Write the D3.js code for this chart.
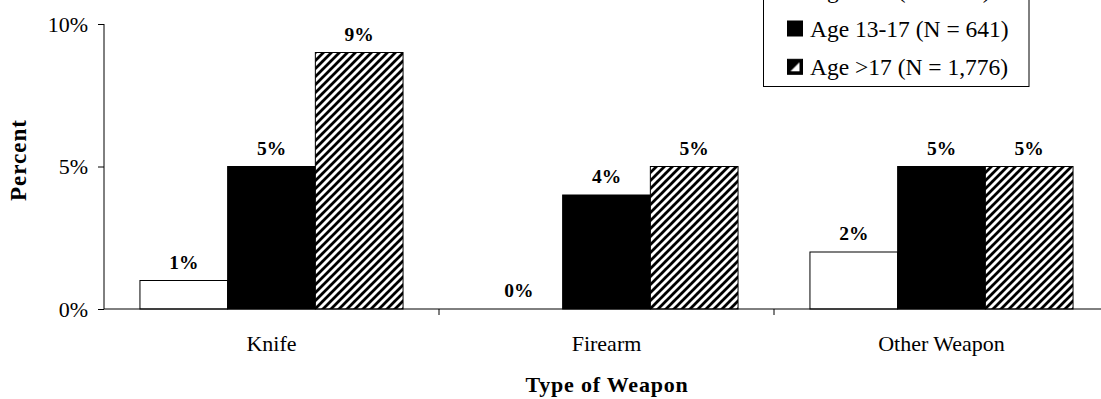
<!DOCTYPE html>
<html><head><meta charset="utf-8">
<script src="https://cdn.jsdelivr.net/npm/d3@7"></script>
<style>body{margin:0;background:#fff}svg{display:block;font-family:"Liberation Serif","Times New Roman",serif}</style>
</head><body><svg id="c" width="1101" height="399"></svg>
<script>
const categories = ["Knife", "Firearm", "Other Weapon"];
const seriesNames = ["Age <13 (N = 133)", "Age 13-17 (N = 641)", "Age >17 (N = 1,776)"];
const ageUnder13 = [1, 0, 2];
const age13to17 = [5, 4, 5];
const ageOver17 = [9, 5, 5];
const yTicks = [0, 5, 10];
const yTickLabels = ["0%", "5%", "10%"];

const seriesValues = [ageUnder13, age13to17, ageOver17];
const svg = d3.select("#c");
const defs = svg.append("defs");
const pat = defs.append("pattern").attr("id","hatch").attr("patternUnits","userSpaceOnUse")
  .attr("width",8).attr("height",8);
pat.append("rect").attr("width",8).attr("height",8).attr("fill","#fff");
pat.append("path").attr("d","M-2,2 L2,-2 M0,8 L8,0 M6,10 L10,6").attr("stroke","#000").attr("stroke-width",2.8);
const LGY = 36.5, LGS = 38.3;
const pat2 = defs.append("pattern").attr("id","hatchS").attr("patternUnits","userSpaceOnUse")
  .attr("width",15).attr("height",15).attr("x",787.5).attr("y",LGY + LGS - 15.5);
pat2.append("rect").attr("width",15).attr("height",15).attr("fill","#000");
pat2.append("path").attr("d","M3,12 L12,3 L12,12 Z").attr("fill","#fff");
const fills = ["#fff", "#000", "url(#hatch)"];
const legFills = ["#fff", "#000", "url(#hatchS)"];

const L = 104, R = 1109, T = 24, B = 309;
const y = d3.scaleLinear().domain([0, 10]).range([B, T]);
const x0 = d3.scaleBand().domain(categories).range([L, R]).padding(0);
const x1 = d3.scaleBand().domain(d3.range(3)).range([0, x0.bandwidth()]).paddingInner(0).paddingOuter(0.41);

// bars
categories.forEach((c, ci) => {
  const g = svg.append("g").attr("transform", `translate(${x0(c)},0)`);
  seriesValues.forEach((vals, si) => {
    const v = vals[ci];
    if (v > 0) {
      g.append("rect").attr("x", x1(si)).attr("y", y(v)).attr("width", x1.bandwidth())
        .attr("height", y(0) - y(v)).attr("fill", fills[si]).attr("stroke", "#000").attr("stroke-width", 1);
    }
    g.append("text").attr("x", x1(si) + x1.bandwidth()/2).attr("y", y(v) - 12)
      .attr("text-anchor", "middle").attr("font-weight", "bold").attr("font-size", 19.5).text(v + "%");
  });
});

// y axis
const yAxis = d3.axisLeft(y).tickValues(yTicks).tickFormat((d, i) => yTickLabels[i]).tickSize(6).tickPadding(10);
const ya = svg.append("g").attr("transform", `translate(${L},0)`).call(yAxis);
ya.select(".domain").attr("d", `M0,${T}V${B}`).attr("stroke","#000");
ya.selectAll("text").attr("font-size", 22).attr("font-family", "Liberation Serif").attr("fill","#000");
ya.selectAll("line").attr("stroke","#000");

// x axis
const xa = svg.append("g").attr("transform", `translate(0,${B})`);
xa.append("line").attr("x1", L).attr("x2", 1101).attr("stroke", "#000");
categories.forEach((c) => {
  xa.append("line").attr("x1", x0(c) + x0.bandwidth()).attr("x2", x0(c) + x0.bandwidth())
    .attr("y1", 0).attr("y2", 6).attr("stroke", "#000");
  xa.append("text").attr("x", x0(c) + x0.bandwidth()/2).attr("y", 42).attr("text-anchor","middle")
    .attr("font-size", 22).text(c);
});

svg.append("text").attr("x", (L + R)/2 + 0.5).attr("y", 392).attr("text-anchor","middle")
  .attr("font-weight","bold").attr("font-size", 22).attr("letter-spacing", 0.8).text("Type of Weapon");
svg.append("text").attr("transform", `translate(26,160) rotate(-90)`).attr("text-anchor","middle")
  .attr("font-weight","bold").attr("font-size", 23).attr("letter-spacing", 1).text("Percent");

// legend
const lg = svg.append("g");
lg.append("rect").attr("x", 763.5).attr("y", -20).attr("width", 265.5).attr("height", 106.5)
  .attr("fill","#fff").attr("stroke","#000").attr("stroke-width",1);
seriesNames.forEach((n, i) => {
  const by = LGY + (i - 1) * LGS;
  lg.append("rect").attr("x", 787.5).attr("y", by - 15.5).attr("width", 15).attr("height", 15)
    .attr("fill", legFills[i]).attr("stroke","#000").attr("stroke-width",1);
  lg.append("text").attr("x", 810).attr("y", by).attr("font-size", 23.5).text(n);
});
</script></body></html>
